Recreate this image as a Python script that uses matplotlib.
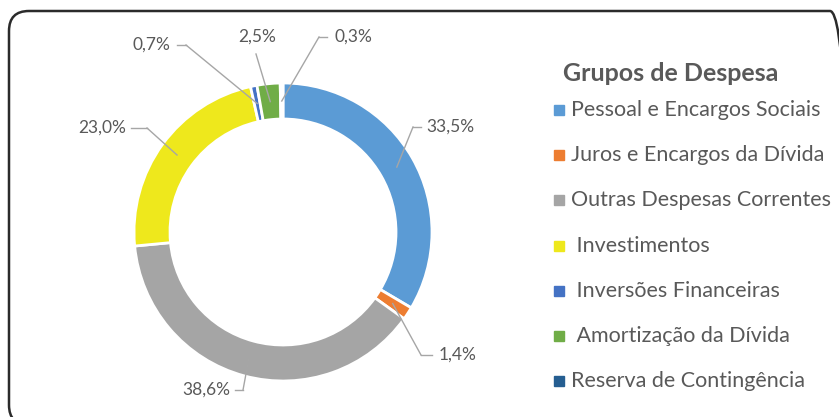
import numpy as np
import matplotlib.pyplot as plt
from matplotlib.patches import FancyBboxPatch, Rectangle

groups = ["Pessoal e Encargos Sociais", "Juros e Encargos da Dívida",
          "Outras Despesas Correntes", " Investimentos", " Inversões Financeiras",
          " Amortização da Dívida", "Reserva de Contingência"]
shares = [33.5, 1.4, 38.6, 23.0, 0.7, 2.5, 0.3]
pct_labels = ["33,5%", "1,4%", "38,6%", "23,0%", "0,7%", "2,5%", "0,3%"]
colors = ["#5B9BD5", "#ED7D31", "#A5A5A5", "#EEE81C", "#4472C4", "#70AD47", "#255E91"]

# label placement (pixels, top-left origin) and leader-line elbow
label_pos = [(450, 127), (458, 355), (206, 390), (102, 128), (151, 45), (257, 37), (353, 37)]
elbow_pos = [(413, 127), (421, 355), (243, 390), (147, 128), (186, 45), (256, 54), (319, 37)]
# gap between label centre and start of the horizontal stub
stub_gap = [29, 26, 29, 29, 26, 0, 26]

W, H = 839, 417
fig = plt.figure(figsize=(W / 100, H / 100), dpi=100)
ax = fig.add_axes([0, 0, 1, 1])
ax.set_aspect("equal")
ax.axis("off")

plt.rcParams["font.family"] = ["Lato", "DejaVu Sans"]
txt = "#595959"

cx, cy, R = 283, H - 232, 149
width = 36
wedges, _ = ax.pie(shares, colors=colors, startangle=90, counterclock=False,
                   center=(cx, cy), radius=R,
                   wedgeprops=dict(width=width, edgecolor="white", linewidth=2))
ax.set_xlim(0, W)
ax.set_ylim(0, H)

# percentage labels with leader lines
for w, lab, (lx, ly), (ex, ey), g in zip(wedges, pct_labels, label_pos, elbow_pos, stub_gap):
    ang = np.deg2rad((w.theta1 + w.theta2) / 2)
    r = R - width / 2
    px, py = cx + r * np.cos(ang), cy + r * np.sin(ang)
    ax.plot([px, ex], [py, H - ey], color="#A6A6A6", lw=1)
    if g:
        stub = lx - g if lx > ex else lx + g
        ax.plot([ex, stub], [H - ey, H - ly], color="#A6A6A6", lw=1)
    ax.text(lx, H - ly, lab, ha="center", va="center", fontsize=12.5, color=txt)

# legend
ax.text(563, H - 73, "Grupos de Despesa", fontsize=18, fontweight="bold",
        color=txt, va="center", ha="left")
for i, (g, c) in enumerate(zip(groups, colors)):
    y = H - (110 + i * 45.2)
    ax.add_patch(Rectangle((554, y - 5), 10, 10, color=c))
    ax.text(571, y, g, fontsize=15.5, color=txt, va="center", ha="left")

# rounded frame (right and bottom edges run off the image)
ax.add_patch(FancyBboxPatch((9, -8), 841, H + 8 - 11,
                            boxstyle="round,pad=0,rounding_size=20",
                            fill=False, edgecolor="#2b2b2b", lw=1.8, clip_on=False))

fig.savefig("out.png", dpi=100)
